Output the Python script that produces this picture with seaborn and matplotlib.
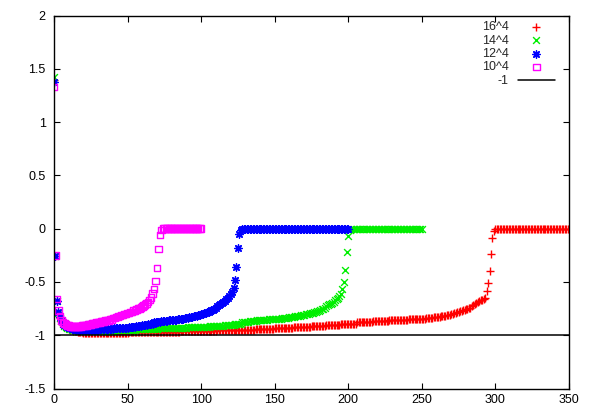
"""
Convergence curves for four lattice sizes (gnuplot-style replica).
Run with: python plot.py  -> writes out.png
"""
import numpy as np
import matplotlib
matplotlib.use("Agg")
import matplotlib.pyplot as plt
import seaborn as sns

# ── data (one value per integer step) ────────────────────────────────────────
# 10^4 : steps 0..100
y_10 = [
    1.33, -0.25, -0.66, -0.77, -0.82, -0.86, -0.88, -0.89, -0.90, -0.91,   # 0
    -0.91, -0.92, -0.92, -0.92, -0.92, -0.92, -0.92, -0.92, -0.92, -0.91,  # 10
    -0.91, -0.91, -0.91, -0.90, -0.90, -0.90, -0.89, -0.89, -0.89, -0.88,  # 20
    -0.88, -0.88, -0.87, -0.87, -0.87, -0.86, -0.86, -0.86, -0.85, -0.85,  # 30
    -0.84, -0.84, -0.83, -0.83, -0.82, -0.82, -0.81, -0.81, -0.80, -0.80,  # 40
    -0.79, -0.79, -0.78, -0.78, -0.77, -0.77, -0.76, -0.75, -0.75, -0.74,  # 50
    -0.73, -0.72, -0.71, -0.70, -0.69, -0.67, -0.645, -0.61, -0.565, -0.49,  # 60
    -0.37, -0.19, -0.06, -0.01, 0, 0, 0, 0, 0, 0,                          # 70
    0, 0, 0, 0, 0, 0, 0, 0, 0, 0,                                          # 80
    0, 0, 0, 0, 0, 0, 0, 0, 0, 0,                                          # 90
    0,                                                                     # 100
]

# 12^4 : steps 0..200
y_12 = [
    1.38, -0.26, -0.68, -0.78, -0.83, -0.86, -0.89, -0.90, -0.91, -0.92,   # 0
    -0.93, -0.93, -0.94, -0.94, -0.94, -0.95, -0.95, -0.95, -0.95, -0.95,  # 10
    -0.95, -0.95, -0.95, -0.95, -0.95, -0.95, -0.95, -0.95, -0.95, -0.95,  # 20
    -0.95, -0.94, -0.94, -0.94, -0.94, -0.94, -0.94, -0.94, -0.94, -0.94,  # 30
    -0.94, -0.93, -0.93, -0.93, -0.93, -0.93, -0.93, -0.93, -0.93, -0.93,  # 40
    -0.93, -0.92, -0.92, -0.92, -0.92, -0.92, -0.91, -0.91, -0.91, -0.91,  # 50
    -0.90, -0.90, -0.90, -0.90, -0.89, -0.89, -0.89, -0.89, -0.88, -0.88,  # 60
    -0.88, -0.88, -0.88, -0.87, -0.87, -0.87, -0.87, -0.87, -0.86, -0.86,  # 70
    -0.86, -0.86, -0.86, -0.86, -0.85, -0.85, -0.85, -0.85, -0.85, -0.84,  # 80
    -0.84, -0.84, -0.83, -0.83, -0.83, -0.82, -0.82, -0.82, -0.81, -0.81,  # 90
    -0.80, -0.80, -0.79, -0.79, -0.78, -0.78, -0.77, -0.76, -0.76, -0.75,  # 100
    -0.74, -0.73, -0.72, -0.71, -0.70, -0.69, -0.68, -0.66, -0.65, -0.63,  # 110
    -0.61, -0.59, -0.56, -0.48, -0.36, -0.18, -0.05, -0.01, 0, 0,          # 120
    0, 0, 0, 0, 0, 0, 0, 0, 0, 0,                                          # 130
    0, 0, 0, 0, 0, 0, 0, 0, 0, 0,                                          # 140
    0, 0, 0, 0, 0, 0, 0, 0, 0, 0,                                          # 150
    0, 0, 0, 0, 0, 0, 0, 0, 0, 0,                                          # 160
    0, 0, 0, 0, 0, 0, 0, 0, 0, 0,                                          # 170
    0, 0, 0, 0, 0, 0, 0, 0, 0, 0,                                          # 180
    0, 0, 0, 0, 0, 0, 0, 0, 0, 0,                                          # 190
    0,                                                                     # 200
]

# 14^4 : steps 0..250
y_14 = [
    1.42, -0.26, -0.68, -0.79, -0.84, -0.87, -0.89, -0.91, -0.92, -0.93,   # 0
    -0.94, -0.94, -0.95, -0.95, -0.95, -0.96, -0.96, -0.96, -0.96, -0.96,  # 10
    -0.96, -0.96, -0.96, -0.96, -0.96, -0.96, -0.96, -0.96, -0.96, -0.96,  # 20
    -0.96, -0.96, -0.96, -0.96, -0.96, -0.96, -0.96, -0.96, -0.96, -0.96,  # 30
    -0.96, -0.95, -0.95, -0.95, -0.95, -0.95, -0.95, -0.95, -0.95, -0.95,  # 40
    -0.95, -0.95, -0.95, -0.95, -0.95, -0.95, -0.94, -0.94, -0.94, -0.94,  # 50
    -0.94, -0.94, -0.94, -0.94, -0.94, -0.94, -0.94, -0.94, -0.94, -0.94,  # 60
    -0.94, -0.93, -0.93, -0.93, -0.93, -0.93, -0.93, -0.93, -0.93, -0.93,  # 70
    -0.93, -0.93, -0.93, -0.93, -0.93, -0.93, -0.93, -0.93, -0.93, -0.93,  # 80
    -0.93, -0.92, -0.92, -0.92, -0.92, -0.92, -0.92, -0.92, -0.92, -0.92,  # 90
    -0.92, -0.92, -0.92, -0.92, -0.92, -0.92, -0.91, -0.91, -0.91, -0.91,  # 100
    -0.91, -0.91, -0.91, -0.91, -0.91, -0.91, -0.90, -0.90, -0.90, -0.90,  # 110
    -0.90, -0.90, -0.90, -0.89, -0.89, -0.89, -0.89, -0.89, -0.88, -0.88,  # 120
    -0.88, -0.88, -0.88, -0.87, -0.87, -0.87, -0.87, -0.87, -0.86, -0.86,  # 130
    -0.86, -0.86, -0.86, -0.86, -0.86, -0.86, -0.85, -0.85, -0.85, -0.85,  # 140
    -0.85, -0.85, -0.85, -0.85, -0.85, -0.84, -0.84, -0.84, -0.84, -0.84,  # 150
    -0.83, -0.83, -0.83, -0.83, -0.82, -0.82, -0.82, -0.82, -0.81, -0.81,  # 160
    -0.81, -0.80, -0.80, -0.80, -0.79, -0.79, -0.79, -0.78, -0.78, -0.77,  # 170
    -0.77, -0.76, -0.75, -0.75, -0.74, -0.73, -0.72, -0.71, -0.71, -0.70,  # 180
    -0.69, -0.67, -0.66, -0.65, -0.63, -0.61, -0.57, -0.50, -0.39, -0.22,  # 190
    -0.07, -0.01, 0, 0, 0, 0, 0, 0, 0, 0,                                  # 200
    0, 0, 0, 0, 0, 0, 0, 0, 0, 0,                                          # 210
    0, 0, 0, 0, 0, 0, 0, 0, 0, 0,                                          # 220
    0, 0, 0, 0, 0, 0, 0, 0, 0, 0,                                          # 230
    0, 0, 0, 0, 0, 0, 0, 0, 0, 0,                                          # 240
    0,                                                                     # 250
]

# 16^4 : steps 0..350
y_16 = [
    1.40, -0.26, -0.68, -0.79, -0.84, -0.87, -0.90, -0.91, -0.92, -0.93,   # 0
    -0.94, -0.95, -0.95, -0.96, -0.96, -0.96, -0.97, -0.97, -0.97, -0.97,  # 10
    -0.98, -0.98, -0.98, -0.98, -0.98, -0.98, -0.98, -0.98, -0.98, -0.98,  # 20
    -0.98, -0.98, -0.98, -0.98, -0.98, -0.98, -0.98, -0.98, -0.98, -0.98,  # 30
    -0.98, -0.98, -0.98, -0.98, -0.98, -0.98, -0.98, -0.98, -0.98, -0.98,  # 40
    -0.98, -0.97, -0.97, -0.97, -0.97, -0.97, -0.97, -0.97, -0.97, -0.97,  # 50
    -0.97, -0.97, -0.97, -0.97, -0.97, -0.97, -0.97, -0.97, -0.97, -0.97,  # 60
    -0.97, -0.97, -0.97, -0.97, -0.97, -0.97, -0.97, -0.97, -0.97, -0.97,  # 70
    -0.97, -0.97, -0.97, -0.97, -0.97, -0.97, -0.96, -0.96, -0.96, -0.96,  # 80
    -0.96, -0.96, -0.96, -0.96, -0.96, -0.96, -0.96, -0.96, -0.96, -0.96,  # 90
    -0.96, -0.96, -0.96, -0.96, -0.96, -0.96, -0.96, -0.96, -0.96, -0.96,  # 100
    -0.96, -0.95, -0.95, -0.95, -0.95, -0.95, -0.95, -0.95, -0.95, -0.95,  # 110
    -0.95, -0.95, -0.95, -0.95, -0.95, -0.95, -0.95, -0.95, -0.95, -0.95,  # 120
    -0.95, -0.95, -0.95, -0.95, -0.95, -0.95, -0.95, -0.94, -0.94, -0.94,  # 130
    -0.94, -0.94, -0.94, -0.94, -0.94, -0.94, -0.94, -0.94, -0.94, -0.94,  # 140
    -0.93, -0.93, -0.93, -0.93, -0.93, -0.93, -0.93, -0.93, -0.93, -0.93,  # 150
    -0.93, -0.93, -0.93, -0.92, -0.92, -0.92, -0.92, -0.92, -0.92, -0.92,  # 160
    -0.92, -0.92, -0.92, -0.92, -0.92, -0.91, -0.91, -0.91, -0.91, -0.91,  # 170
    -0.91, -0.91, -0.91, -0.91, -0.91, -0.90, -0.90, -0.90, -0.90, -0.90,  # 180
    -0.90, -0.90, -0.90, -0.90, -0.90, -0.89, -0.89, -0.89, -0.89, -0.89,  # 190
    -0.89, -0.89, -0.89, -0.89, -0.89, -0.89, -0.88, -0.88, -0.88, -0.88,  # 200
    -0.88, -0.88, -0.88, -0.88, -0.88, -0.88, -0.88, -0.87, -0.87, -0.87,  # 210
    -0.87, -0.87, -0.87, -0.87, -0.87, -0.87, -0.87, -0.87, -0.86, -0.86,  # 220
    -0.86, -0.86, -0.86, -0.86, -0.86, -0.86, -0.86, -0.86, -0.86, -0.86,  # 230
    -0.86, -0.85, -0.85, -0.85, -0.85, -0.85, -0.85, -0.85, -0.85, -0.85,  # 240
    -0.85, -0.85, -0.85, -0.84, -0.84, -0.84, -0.84, -0.84, -0.83, -0.83,  # 250
    -0.83, -0.83, -0.83, -0.82, -0.82, -0.82, -0.82, -0.81, -0.81, -0.81,  # 260
    -0.80, -0.80, -0.79, -0.79, -0.78, -0.78, -0.77, -0.77, -0.76, -0.76,  # 270
    -0.75, -0.75, -0.74, -0.74, -0.73, -0.72, -0.71, -0.70, -0.69, -0.68,  # 280
    -0.67, -0.67, -0.66, -0.65, -0.58, -0.51, -0.40, -0.24, -0.09, -0.02,  # 290
    0, 0, 0, 0, 0, 0, 0, 0, 0, 0,                                          # 300
    0, 0, 0, 0, 0, 0, 0, 0, 0, 0,                                          # 310
    0, 0, 0, 0, 0, 0, 0, 0, 0, 0,                                          # 320
    0, 0, 0, 0, 0, 0, 0, 0, 0, 0,                                          # 330
    0, 0, 0, 0, 0, 0, 0, 0, 0, 0,                                          # 340
    0,                                                                     # 350
]

labels = ["16^4", "14^4", "12^4", "10^4"]
ref_level = -1
ref_label = "-1"

x_ticks = [0, 50, 100, 150, 200, 250, 300, 350]
y_ticks = [-1.5, -1, -0.5, 0, 0.5, 1, 1.5, 2]
y_tick_labels = ["-1.5", "-1", "-0.5", "0", "0.5", "1", "1.5", "2"]

# ── style ─────────────────────────────────────────────────────────────────────
sns.set_theme(style="ticks")
plt.rcParams["font.family"] = ["Liberation Sans", "DejaVu Sans"]
plt.rcParams["axes.unicode_minus"] = False

colors = ["#ff0000", "#00ee00", "#0000ff", "#ff00ff"]
markers = ["+", "x", (8, 2, 0), "s"]
sizes = [32, 24, 28, 22]

fig, ax = plt.subplots(figsize=(5.93, 4.15), dpi=100)
fig.subplots_adjust(left=54 / 593, right=569 / 593,
                    bottom=1 - 388.5 / 415, top=1 - 15.7 / 415)

series = [y_16, y_14, y_12, y_10]
for ys, lab, col, mk, sz in zip(series, labels, colors, markers, sizes):
    xs = np.arange(len(ys))
    if mk == "s":
        sns.scatterplot(x=xs, y=ys, marker=mk, s=sz, facecolors="none",
                        edgecolor=col, linewidth=1.0, ax=ax, label=lab)
    else:
        sns.scatterplot(x=xs, y=ys, marker=mk, s=sz, color=col,
                        linewidth=1.0, ax=ax, label=lab)

ax.axhline(ref_level, color="black", linewidth=1.1, label=ref_label, zorder=3)

ax.set_xlim(0, 350)
ax.set_ylim(-1.5, 2)
ax.set_xticks(x_ticks)
ax.set_xticklabels([str(t) for t in x_ticks])
ax.set_yticks(y_ticks)
ax.set_yticklabels(y_tick_labels)
ax.set_xlabel("")
ax.set_ylabel("")

for side in ["top", "right", "bottom", "left"]:
    ax.spines[side].set_visible(True)
    ax.spines[side].set_linewidth(1.0)
    ax.spines[side].set_color("black")
ax.tick_params(direction="in", length=4.5, width=0.8, top=True, right=True,
               labelsize=9, colors="black")
ax.tick_params(axis="x", pad=4)
ax.tick_params(axis="y", pad=6)

ax.legend(loc="upper right", bbox_to_anchor=(555 / 593, 1 - 21 / 415),
          bbox_transform=fig.transFigure, frameon=False, markerfirst=False,
          fontsize=9, labelspacing=0.12, handlelength=3.0, handletextpad=0.7,
          borderpad=0, borderaxespad=0, scatterpoints=1)

fig.savefig("out.png", dpi=100)
plt.close(fig)
